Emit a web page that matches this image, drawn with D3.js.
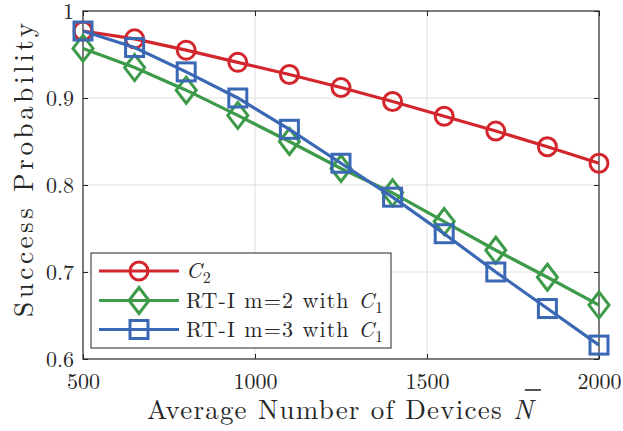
<!DOCTYPE html>
<html>
<head>
<meta charset="utf-8">
<script src="https://cdn.jsdelivr.net/npm/d3@7"></script>
<style>
  body { margin: 0; background: #fff; }
  text { font-family: "Latin Modern Roman", "CMU Serif", "Liberation Serif", serif; fill: #262626; }
</style>
</head>
<body>
<svg id="chart" width="623" height="431"></svg>
<script>
// number of devices on the x axis
var devices = [500, 650, 800, 950, 1100, 1250, 1400, 1550, 1700, 1850, 2000];

// success probability of each scheme
var c2 = [0.977, 0.968, 0.955, 0.941, 0.927, 0.912, 0.896, 0.879, 0.862, 0.844, 0.825];
var rtM2 = [0.957, 0.935, 0.909, 0.880, 0.850, 0.819, 0.791, 0.758, 0.725, 0.694, 0.662];
var rtM3 = [0.977, 0.958, 0.930, 0.900, 0.864, 0.825, 0.786, 0.744, 0.700, 0.658, 0.616];

var xTicks = [500, 1000, 1500, 2000];
var yTicks = [0.6, 0.7, 0.8, 0.9, 1];

var svg = d3.select("#chart");
var mLeft = 83, mRight = 599, mTop = 11, mBottom = 359;
var serif = '"Latin Modern Roman", "CMU Serif", "Liberation Serif", serif';

var x = d3.scaleLinear().domain([500, 2000]).range([mLeft, mRight]);
var y = d3.scaleLinear().domain([0.6, 1]).range([mBottom, mTop]);

// grid
svg.append("g").selectAll("line")
    .data(xTicks.slice(1, -1))
    .enter().append("line")
    .attr("x1", d => x(d)).attr("x2", d => x(d))
    .attr("y1", mTop).attr("y2", mBottom)
    .style("stroke", "#dedede").style("stroke-width", 1);
svg.append("g").selectAll("line")
    .data(yTicks.slice(1, -1))
    .enter().append("line")
    .attr("x1", mLeft).attr("x2", mRight)
    .attr("y1", d => y(d)).attr("y2", d => y(d))
    .style("stroke", "#dedede").style("stroke-width", 1);

// axes with inward ticks, box on all sides
function styleAxis(g) {
    g.select(".domain").remove();
    g.selectAll(".tick line").style("stroke", "#262626");
    g.selectAll(".tick text")
        .style("font-size", "22px")
        .style("font-family", serif)
        .style("fill", "#262626");
}
svg.append("g").attr("transform", "translate(0," + mBottom + ")")
    .call(d3.axisBottom(x).tickValues(xTicks).tickSize(-5).tickPadding(14).tickFormat(d3.format("d")))
    .call(styleAxis);
svg.append("g").attr("transform", "translate(0," + mTop + ")")
    .call(d3.axisTop(x).tickValues(xTicks).tickSize(-5).tickFormat(""))
    .call(styleAxis);
svg.append("g").attr("transform", "translate(" + mLeft + ",0)")
    .call(d3.axisLeft(y).tickValues(yTicks).tickSize(-5).tickPadding(9)
        .tickFormat(d => d === 1 ? "1" : d3.format(".1f")(d)))
    .call(styleAxis);
svg.append("g").attr("transform", "translate(" + mRight + ",0)")
    .call(d3.axisRight(y).tickValues(yTicks).tickSize(-5).tickFormat(""))
    .call(styleAxis);

svg.append("rect")
    .attr("x", mLeft).attr("y", mTop)
    .attr("width", mRight - mLeft).attr("height", mBottom - mTop)
    .style("fill", "none").style("stroke", "#262626").style("stroke-width", 1.2);

// series
var series = [
    {name: "c2", values: c2, color: "#d3262c", marker: "circle"},
    {name: "m2", values: rtM2, color: "#3c9a48", marker: "diamond"},
    {name: "m3", values: rtM3, color: "#3a68b5", marker: "square"}
];

var line = d3.line()
    .x((d, i) => x(devices[i]))
    .y(d => y(d));

function drawMarker(g, type, color) {
    if (type === "circle") {
        g.append("circle").attr("r", 9);
    } else if (type === "diamond") {
        g.append("path").attr("d", "M0,-13L10,0L0,13L-10,0Z");
    } else {
        g.append("rect").attr("x", -9).attr("y", -9).attr("width", 18).attr("height", 18);
    }
    g.selectAll("*").style("fill", "none").style("stroke", color).style("stroke-width", 3);
}

series.forEach(function (s) {
    svg.append("path")
        .datum(s.values)
        .attr("d", line)
        .style("fill", "none")
        .style("stroke", s.color)
        .style("stroke-width", 3.2);
    s.values.forEach(function (v, i) {
        var g = svg.append("g").attr("transform", "translate(" + x(devices[i]) + "," + y(v) + ")");
        drawMarker(g, s.marker, s.color);
    });
});

// legend
var legend = svg.append("g");
legend.append("rect")
    .attr("x", 91).attr("y", 253).attr("width", 300).attr("height", 95)
    .style("fill", "#fff").style("stroke", "#262626").style("stroke-width", 1);

var legendY = [271, 300.5, 329.5];
series.forEach(function (s, i) {
    legend.append("line")
        .attr("x1", 99).attr("x2", 179)
        .attr("y1", legendY[i]).attr("y2", legendY[i])
        .style("stroke", s.color).style("stroke-width", 3.2);
    var g = legend.append("g").attr("transform", "translate(139," + legendY[i] + ")");
    drawMarker(g, s.marker, s.color);
});

function addC(textSel, sub) {
    textSel.append("tspan").style("font-style", "italic").text("C");
    textSel.append("tspan").attr("dy", 5).style("font-size", "16px").text(sub);
}

var legendText = ["", "RT-I m=2 with ", "RT-I m=3 with "];
var legendSub = ["2", "1", "1"];
legendText.forEach(function (txt, i) {
    var t = legend.append("text")
        .attr("x", 186).attr("y", legendY[i] + 7)
        .style("font-size", "22px")
        .style("letter-spacing", "1.1px");
    if (txt) t.append("tspan").text(txt);
    addC(t, legendSub[i]);
});

// axis labels
var xl = svg.append("text")
    .attr("x", 340).attr("y", 419)
    .attr("text-anchor", "middle")
    .attr("textLength", 386)
    .attr("lengthAdjust", "spacing")
    .style("font-size", "27px");
xl.append("tspan").text("Average Number of Devices ");
var nSpan = xl.append("tspan").style("font-style", "italic").text("N");
// bar over N (nudged right for the italic slant)
var bb = nSpan.node().getBBox();
svg.append("line")
    .attr("x1", bb.x + bb.width * 0.3 + 5).attr("x2", bb.x + bb.width + 5)
    .attr("y1", bb.y + 1).attr("y2", bb.y + 1)
    .style("stroke", "#262626").style("stroke-width", 1.6);

svg.append("text")
    .attr("transform", "translate(33,170) rotate(-90)")
    .attr("text-anchor", "middle")
    .attr("textLength", 294)
    .attr("lengthAdjust", "spacing")
    .style("font-size", "27px")
    .text("Success Probability");
</script>
</body>
</html>
